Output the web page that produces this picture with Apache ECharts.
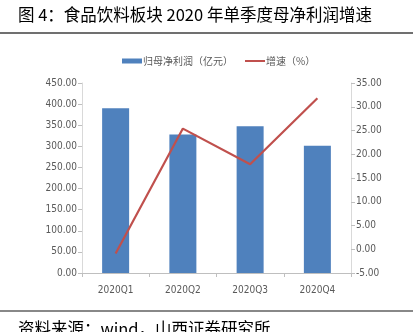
<!DOCTYPE html>
<html><head><meta charset="utf-8">
<script src="https://cdn.jsdelivr.net/npm/echarts@6/dist/echarts.min.js"></script>
<style>html,body{margin:0;padding:0;background:#fff}#c{width:416px;height:332px}</style>
</head><body><div id="c"></div>
<script>
const titleText = '图 4：食品饮料板块 2020 年单季度母净利润增速';
const sourceText = '资料来源：wind，山西证券研究所';
const categories = ['2020Q1', '2020Q2', '2020Q3', '2020Q4'];
const barName = '归母净利润（亿元）';
const lineName = '增速（%）';
const profit = [390.0, 328.0, 347.5, 301.5];
const growth = [-0.9, 25.4, 17.9, 31.8];

const numFont = "'Liberation Sans Narrow', 'DejaVu Sans Condensed', 'Liberation Sans', sans-serif";
const cjkFont = "'Noto Sans CJK SC', sans-serif";
const chart = echarts.init(document.getElementById('c'), null, {renderer: 'canvas'});
chart.setOption({
  animation: false,
  backgroundColor: '#fff',
  legend: {
    top: 51, left: 117, itemGap: 12, itemWidth: 20, itemHeight: 5,
    textStyle: {fontFamily: cjkFont, fontSize: 10, color: '#595959', padding: [0,0,0,-4]},
    data: [
      {name: barName, icon: 'rect'},
      {name: lineName, icon: 'path://M0,0 L20,0 L20,2 L0,2 Z', itemStyle: {color: '#c0504d'}}
    ]
  },
  grid: {left: 82, right: 65, top: 83, bottom: 59},
  xAxis: {
    type: 'category', data: categories,
    axisLine: {lineStyle: {color: '#bfbfbf'}},
    axisTick: {show: true, alignWithLabel: false, length: 4, lineStyle: {color: '#bfbfbf'}},
    axisLabel: {fontFamily: numFont, fontSize: 10, color: '#595959', margin: 12}
  },
  yAxis: [
    {
      type: 'value', min: 0, max: 450, interval: 50,
      axisLine: {show: true, lineStyle: {color: '#d9d9d9'}},
      axisTick: {show: true, length: 4, lineStyle: {color: '#bfbfbf'}},
      splitLine: {show: false},
      axisLabel: {fontFamily: numFont, fontSize: 10, color: '#595959', margin: 5,
        formatter: v => v.toFixed(2)}
    },
    {
      type: 'value', min: -5, max: 35, interval: 5, position: 'right',
      axisLine: {show: true, lineStyle: {color: '#d9d9d9'}},
      axisTick: {show: true, length: 4, lineStyle: {color: '#bfbfbf'}},
      splitLine: {show: false},
      axisLabel: {fontFamily: numFont, fontSize: 10, color: '#595959', margin: 5,
        formatter: v => v.toFixed(2)}
    }
  ],
  series: [
    {name: barName, type: 'bar', data: profit, barWidth: 27, yAxisIndex: 0,
     itemStyle: {color: '#4f81bd'}},
    {name: lineName, type: 'line', data: growth, yAxisIndex: 1, symbol: 'none',
     lineStyle: {color: '#c0504d', width: 2.2}, itemStyle: {color: '#c0504d'}}
  ],
  graphic: [
    {type: 'text', x: 18, y: 6, style: {text: titleText, font: "16.5px 'Noto Sans CJK SC', sans-serif", fill: '#000', textAlign: 'left', textVerticalAlign: 'top'}},
    {type: 'line', shape: {x1: 0, y1: 33, x2: 413, y2: 33}, style: {stroke: '#404040', lineWidth: 1.5}},
    {type: 'line', shape: {x1: 0, y1: 311, x2: 413, y2: 311}, style: {stroke: '#606060', lineWidth: 1.5}},
    {type: 'text', x: 18, y: 320, style: {text: sourceText, font: "16.5px 'Noto Sans CJK SC', sans-serif", fill: '#000', textAlign: 'left', textVerticalAlign: 'top'}}
  ]
});
</script></body></html>
